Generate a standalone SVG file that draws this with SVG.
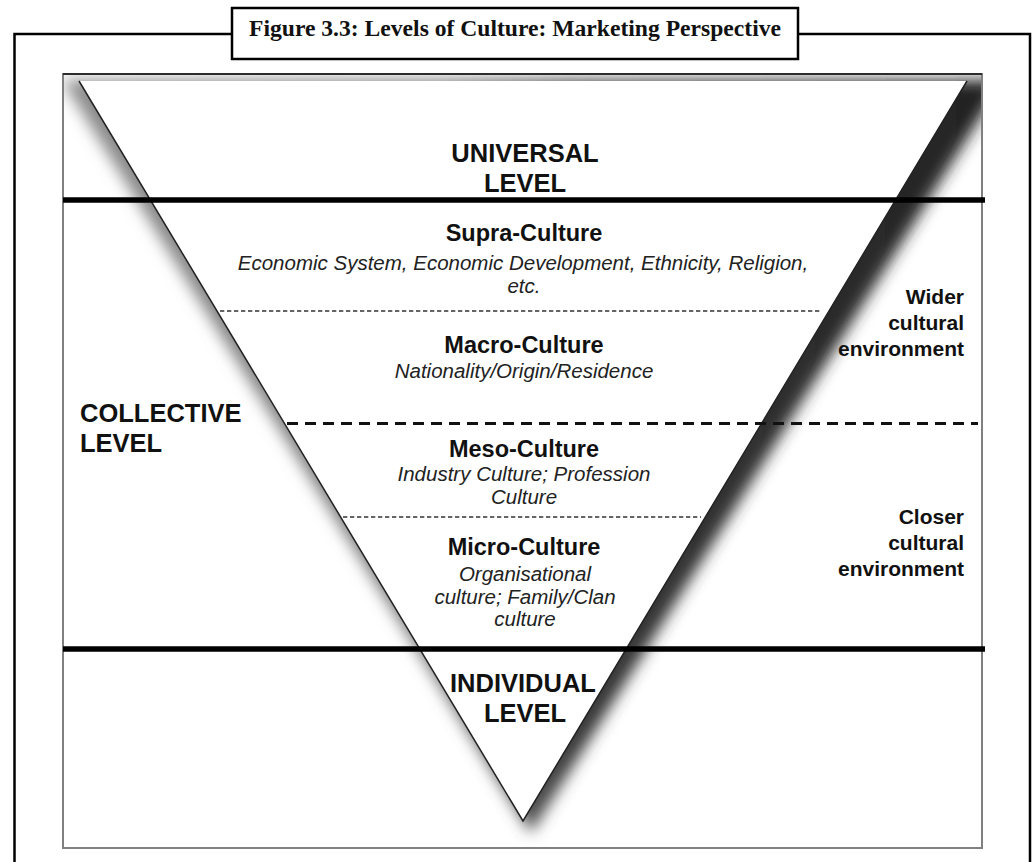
<svg xmlns="http://www.w3.org/2000/svg" width="1032" height="862" viewBox="0 0 1032 862">
<defs>
<style>
.lvl{font-family:"Liberation Sans",Arial,sans-serif;font-weight:bold;font-size:25.5px;fill:#111}
.ttl{font-family:"Liberation Sans",Arial,sans-serif;font-weight:bold;font-size:23.5px;fill:#111;text-anchor:middle}
.it{font-family:"Liberation Sans",Arial,sans-serif;font-style:italic;font-size:20.5px;fill:#222;text-anchor:middle}
.side{font-family:"Liberation Sans",Arial,sans-serif;font-weight:bold;font-size:21px;fill:#111;text-anchor:end}
.thick{stroke:#000;stroke-width:5.5;fill:none}
.dash{stroke:#111;stroke-width:3;stroke-dasharray:11 7;fill:none}
.dot{stroke:#333;stroke-width:1.3;stroke-dasharray:4.3 2.7;fill:none}
</style>
<clipPath id="inner"><rect x="64" y="75" width="917" height="772"/></clipPath>
<filter id="blur" x="-10%" y="-10%" width="120%" height="120%"><feGaussianBlur stdDeviation="7.5"/></filter>
<linearGradient id="shade" gradientUnits="userSpaceOnUse" x1="60" y1="0" x2="1000" y2="0">
<stop offset="0" stop-color="#8c8c8c"/>
<stop offset="0.4" stop-color="#7a7a7a"/>
<stop offset="0.55" stop-color="#3a3a3a"/>
<stop offset="1" stop-color="#222"/>
</linearGradient>
</defs>
<rect width="1032" height="862" fill="#fff"/>
<g id="frame">
<path d="M14.5 862 V34 H232 M798 34 H1030 V862" fill="none" stroke="#000" stroke-width="2.5"/>
</g>
<g id="title">
<rect x="232" y="8" width="566" height="51" fill="#fff" stroke="#000" stroke-width="2.5"/>
<text x="515" y="36" text-anchor="middle" font-family="Liberation Serif,'Times New Roman',serif" font-weight="bold" font-size="23.7" textLength="532" lengthAdjust="spacingAndGlyphs" fill="#111">Figure 3.3: Levels of Culture: Marketing Perspective</text>
</g>
<g id="panel">
<rect x="63" y="74" width="919" height="774" fill="#fff" stroke="#808080" stroke-width="2"/>
<g clip-path="url(#inner)">
<polygon points="62,80 1004,80 531,833" fill="url(#shade)" filter="url(#blur)"/>
</g>
<line x1="63" y1="74" x2="982" y2="74" stroke="#111" stroke-width="1.5"/>
</g>
<g id="triangle">
<polygon points="79,81 967,81 523,821" fill="#fff"/>
<path d="M79 81 L523 821 L967 81" fill="none" stroke="#222" stroke-width="1.5"/>
</g>
<g id="connectors">
<line class="thick" x1="63" y1="200" x2="985" y2="200"/>
<line class="thick" x1="63" y1="649" x2="985" y2="649"/>
<line class="dash" x1="287" y1="423.5" x2="978" y2="423.5"/>
<line class="dot" x1="220" y1="311" x2="822" y2="311"/>
<line class="dot" x1="343" y1="517" x2="701" y2="517"/>
</g>
<g id="universal">
<text class="lvl" x="525" y="162" text-anchor="middle">UNIVERSAL</text>
<text class="lvl" x="525" y="192" text-anchor="middle">LEVEL</text>
</g>
<g id="supra">
<text class="ttl" x="524" y="241">Supra-Culture</text>
<text class="it" x="523" y="270">Economic System, Economic Development, Ethnicity, Religion,</text>
<text class="it" x="524" y="293">etc.</text>
</g>
<g id="macro">
<text class="ttl" x="524" y="353">Macro-Culture</text>
<text class="it" x="524" y="378">Nationality/Origin/Residence</text>
</g>
<g id="collective">
<text class="lvl" x="80" y="422">COLLECTIVE</text>
<text class="lvl" x="80" y="452">LEVEL</text>
</g>
<g id="meso">
<text class="ttl" x="524" y="457">Meso-Culture</text>
<text class="it" x="524" y="481">Industry Culture; Profession</text>
<text class="it" x="524" y="504">Culture</text>
</g>
<g id="micro">
<text class="ttl" x="524" y="555">Micro-Culture</text>
<text class="it" x="525" y="581">Organisational</text>
<text class="it" x="525" y="603.5">culture; Family/Clan</text>
<text class="it" x="525" y="626">culture</text>
</g>
<g id="wider">
<text class="side" x="964" y="304">Wider</text>
<text class="side" x="964" y="330">cultural</text>
<text class="side" x="964" y="356">environment</text>
</g>
<g id="closer">
<text class="side" x="964" y="524">Closer</text>
<text class="side" x="964" y="550">cultural</text>
<text class="side" x="964" y="576">environment</text>
</g>
<g id="individual">
<text class="lvl" x="523" y="692" text-anchor="middle">INDIVIDUAL</text>
<text class="lvl" x="525" y="722" text-anchor="middle">LEVEL</text>
</g>
</svg>
